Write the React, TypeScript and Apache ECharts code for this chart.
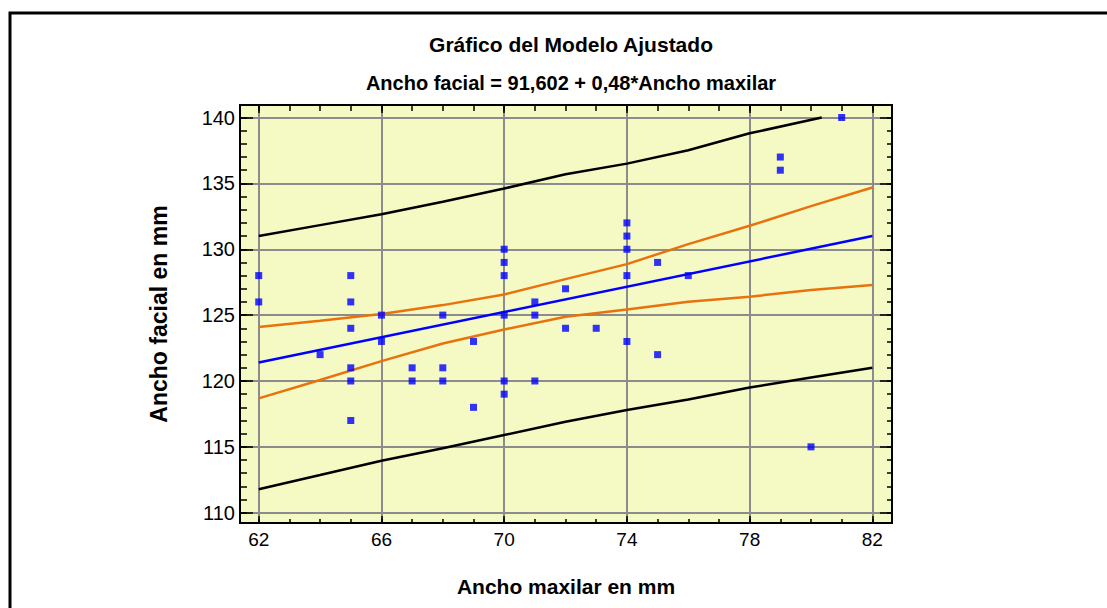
import React, { useEffect, useRef } from "react";
import * as echarts from "echarts";

// Observed data (Ancho maxilar, Ancho facial)
const maxilar = [
  62, 62, 64, 65, 65, 65, 65, 65, 65, 66, 66, 67, 67, 68, 68, 68, 69, 69,
  70, 70, 70, 70, 70, 70, 71, 71, 71, 72, 72, 73, 74, 74, 74, 74, 74, 75, 75,
  76, 79, 79, 80, 81,
];
const facial = [
  128, 126, 122, 128, 126, 124, 121, 120, 117, 125, 123, 121, 120, 125, 121, 120, 123, 118,
  130, 129, 128, 125, 120, 119, 126, 125, 120, 127, 124, 124, 132, 131, 130, 128, 123, 129, 122,
  128, 137, 136, 115, 140,
];

// Fitted line: Ancho facial = 91,602 + 0,48*Ancho maxilar
const fitX = [62, 82];
const fitY = [121.4, 131.0];

// Confidence limits (orange)
const confX = [62, 64, 66, 68, 70, 72, 74, 76, 78, 80, 82];
const confUpper = [124.1, 124.57, 125.08, 125.76, 126.57, 127.73, 128.87, 130.39, 131.78, 133.27, 134.69];
const confLower = [118.68, 120.07, 121.51, 122.85, 123.91, 124.87, 125.43, 126.01, 126.4, 126.9, 127.28];

// Prediction limits (black)
const predUpperX = [62, 64, 66, 68, 70, 72, 74, 76, 78, 80.35];
const predUpper = [131.0, 131.83, 132.66, 133.6, 134.61, 135.7, 136.5, 137.52, 138.8, 140.0];
const predLowerX = [62, 64, 66, 68, 70, 72, 74, 76, 78, 80, 82];
const predLower = [111.78, 112.86, 113.95, 114.9, 115.9, 116.9, 117.8, 118.6, 119.5, 120.27, 121.0];

// Axis ticks
const xMajor = [62, 66, 70, 74, 78, 82];
const xMinor = [62, 63, 64, 65, 66, 67, 68, 69, 70, 71, 72, 73, 74, 75, 76, 77, 78, 79, 80, 81, 82];
const yMajor = [110, 115, 120, 125, 130, 135, 140];
const yMinor = [
  110, 111, 112, 113, 114, 115, 116, 117, 118, 119, 120, 121, 122, 123, 124, 125,
  126, 127, 128, 129, 130, 131, 132, 133, 134, 135, 136, 137, 138, 139, 140,
];

const titleText = "Gráfico del Modelo Ajustado";
const subtitleText = "Ancho facial = 91,602 + 0,48*Ancho maxilar";
const xName = "Ancho maxilar en mm";
const yName = "Ancho facial en mm";

const FONT = "'Liberation Sans', Arial, sans-serif";
const X_MIN = 61.39;
const X_MAX = 82.64;
const Y_MIN = 109.22;
const Y_MAX = 140.95;

const zip = (xs: number[], ys: number[]) => xs.map((x, i) => [x, ys[i]]);

export default function App() {
  const ref = useRef<HTMLDivElement>(null);
  useEffect(() => {
    if (!ref.current) return;
    const chart = echarts.init(ref.current, null, { renderer: "svg" });

    const tickBase = {
      show: true,
      inside: true,
      lineStyle: { color: "#000", width: 1.5 },
    };
    const hidden = {
      axisLine: { show: false },
      axisLabel: { show: false },
      splitLine: { show: false },
    };

    const xAxisCommon = { type: "value", min: X_MIN, max: X_MAX, gridIndex: 0 };
    const yAxisCommon = { type: "value", min: Y_MIN, max: Y_MAX, gridIndex: 0 };

    chart.setOption({
      animation: false,
      backgroundColor: "#fff",
      title: [
        {
          text: titleText,
          left: 566,
          top: 29,
          textAlign: "center",
          textStyle: { fontFamily: FONT, fontSize: 21, fontWeight: "bold", color: "#000" },
        },
        {
          text: subtitleText,
          left: 566,
          top: 68,
          textAlign: "center",
          textStyle: { fontFamily: FONT, fontSize: 20, fontWeight: "bold", color: "#000" },
        },
      ],
      graphic: [
        {
          type: "rect",
          shape: { x: 10, y: 13, width: 1300, height: 800 },
          style: { fill: "none", stroke: "#000", lineWidth: 3 },
          silent: true,
        },
      ],
      grid: {
        left: 240,
        top: 105,
        width: 652,
        height: 418,
        show: true,
        backgroundColor: "#F5F9C3",
        borderColor: "#000",
        borderWidth: 2,
      },
      xAxis: [
        {
          ...xAxisCommon,
          position: "bottom",
          name: xName,
          nameLocation: "middle",
          nameGap: 53,
          nameTextStyle: { fontFamily: FONT, fontSize: 21, fontWeight: "bold", color: "#000" },
          axisLine: { show: false },
          axisTick: { ...tickBase, length: 7, customValues: xMajor },
          axisLabel: {
            customValues: xMajor,
            fontFamily: FONT,
            fontSize: 19,
            color: "#000",
            margin: 7,
          },
          splitLine: { show: true, lineStyle: { color: "#8c8c8c", width: 2 } },
        },
        {
          ...xAxisCommon,
          position: "bottom",
          ...hidden,
          axisTick: { ...tickBase, length: 4, customValues: xMinor },
        },
        {
          ...xAxisCommon,
          position: "top",
          ...hidden,
          axisTick: { ...tickBase, length: 8, customValues: xMajor },
        },
        {
          ...xAxisCommon,
          position: "top",
          ...hidden,
          axisTick: { ...tickBase, length: 6, customValues: xMinor },
        },
      ],
      yAxis: [
        {
          ...yAxisCommon,
          position: "left",
          name: yName,
          nameLocation: "middle",
          nameGap: 70,
          nameRotate: 90,
          nameTextStyle: { fontFamily: FONT, fontSize: 23, fontWeight: "bold", color: "#000" },
          axisLine: { show: false },
          axisTick: { ...tickBase, length: 13, customValues: yMajor },
          axisLabel: {
            customValues: yMajor,
            fontFamily: FONT,
            fontSize: 20,
            color: "#000",
            margin: 5,
          },
          splitLine: { show: true, lineStyle: { color: "#8c8c8c", width: 2 } },
        },
        {
          ...yAxisCommon,
          position: "left",
          ...hidden,
          axisTick: { ...tickBase, length: 7, customValues: yMinor },
        },
        {
          ...yAxisCommon,
          position: "right",
          ...hidden,
          axisTick: { ...tickBase, length: 12, customValues: yMajor },
        },
        {
          ...yAxisCommon,
          position: "right",
          ...hidden,
          axisTick: { ...tickBase, length: 5, customValues: yMinor },
        },
      ],
      series: [
        {
          type: "line",
          name: "pred-upper",
          data: zip(predUpperX, predUpper),
          showSymbol: false,
          lineStyle: { color: "#000", width: 2.5 },
          z: 3,
        },
        {
          type: "line",
          name: "pred-lower",
          data: zip(predLowerX, predLower),
          showSymbol: false,
          lineStyle: { color: "#000", width: 2.5 },
          z: 3,
        },
        {
          type: "line",
          name: "conf-upper",
          data: zip(confX, confUpper),
          showSymbol: false,
          lineStyle: { color: "#E8720C", width: 2.5 },
          z: 3,
        },
        {
          type: "line",
          name: "conf-lower",
          data: zip(confX, confLower),
          showSymbol: false,
          lineStyle: { color: "#E8720C", width: 2.5 },
          z: 3,
        },
        {
          type: "line",
          name: "fit",
          data: zip(fitX, fitY),
          showSymbol: false,
          lineStyle: { color: "#0000FF", width: 2.5 },
          z: 3,
        },
        {
          type: "scatter",
          name: "obs",
          data: zip(maxilar, facial),
          symbol: "rect",
          symbolSize: 7,
          itemStyle: { color: "#0000FF" },
          clip: false,
          z: 4,
        },
      ],
    });
    return () => chart.dispose();
  }, []);

  return (
    <div
      ref={ref}
      style={{ position: "absolute", left: 0, top: 0, width: 1107, height: 608 }}
    />
  );
}
